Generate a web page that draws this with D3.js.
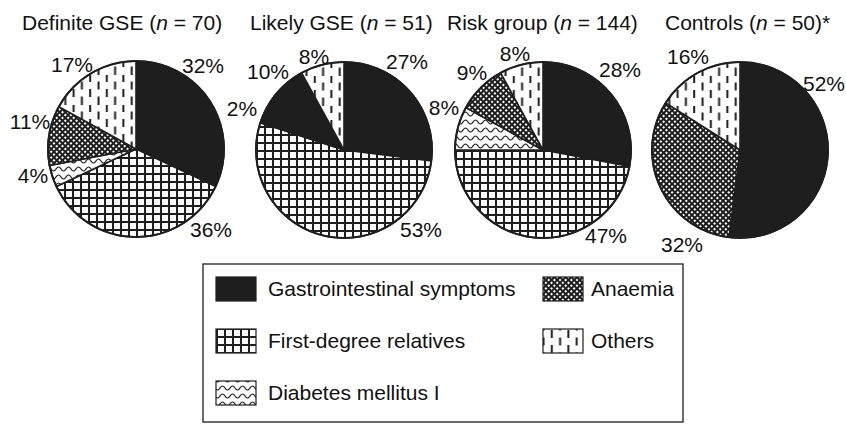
<!DOCTYPE html>
<html>
<head>
<meta charset="utf-8">
<script src="https://cdn.jsdelivr.net/npm/d3@7"></script>
<style>
  html, body { margin: 0; padding: 0; background: #fff; }
  svg { display: block; font-family: "Liberation Sans", Arial, Helvetica, sans-serif; }
</style>
</head>
<body>
<svg id="chart" width="846" height="424"></svg>
<script>
// ---------- data ----------
const groups = ["Definite GSE", "Likely GSE", "Risk group", "Controls"];
const groupN = [70, 51, 144, 50];
const groupSuffix = ["", "", "", "*"];
const categories = ["Gastrointestinal symptoms", "First-degree relatives", "Diabetes mellitus I", "Anaemia", "Others"];
const definiteGSE = [32, 36, 4, 11, 17];
const likelyGSE = [27, 53, 2, 10, 8];
const riskGroup = [28, 47, 8, 9, 8];
const controls = [52, 0, 0, 32, 16];
const seriesValues = [definiteGSE, likelyGSE, riskGroup, controls];

// ---------- layout (positions / styles) ----------
const W = 846, H = 424;
const pieCenters = [[136, 149], [344, 150], [543, 150], [740, 150]];
const radius = 88;
const titleX = [22, 250, 447, 665];
const titleY = 30;
const fontSize = 21;
// label centre offsets from pie centre, per group, per category
const labelOffsets = [
  [[67, -83], [75, 81], [-103, 27], [-106, -27], [-64, -84]],
  [[63, -88], [77, 80], [-102, -41], [-76, -78], [-30, -93]],
  [[77, -80], [63, 86], [-99, -42], [-71, -77], [-28, -96]],
  [[84, -66], [0, 0], [0, 0], [-58, 95], [-52, -93]]
];
// in the reference the small slices of "Likely GSE" are printed solid
const solidOverride = { 1: [2, 3] };
const patternIds = ["pGI", "pFDR", "pDM", "pAN", "pOT"];
const ink = "#1e1e1e";

const svg = d3.select("#chart");
const defs = svg.append("defs");

// FDR: grid
const pFDR = defs.append("pattern").attr("id", "pFDR").attr("patternUnits", "userSpaceOnUse")
  .attr("width", 8).attr("height", 8);
pFDR.append("rect").attr("width", 8).attr("height", 8).attr("fill", "#fff");
pFDR.append("rect").attr("x", 0).attr("y", 0).attr("width", 2).attr("height", 8).attr("fill", ink);
pFDR.append("rect").attr("x", 0).attr("y", 0).attr("width", 8).attr("height", 2).attr("fill", ink);

// DM: wavy lines
const pDM = defs.append("pattern").attr("id", "pDM").attr("patternUnits", "userSpaceOnUse")
  .attr("width", 10).attr("height", 8);
pDM.append("rect").attr("width", 10).attr("height", 8).attr("fill", "#fff");
pDM.append("path").attr("d", "M-5,4 Q-2.5,8 0,4 Q2.5,0 5,4 Q7.5,8 10,4 Q12.5,0 15,4")
  .attr("fill", "none").attr("stroke", ink).attr("stroke-width", 1.2);

// Anaemia: dense diamond crosshatch
const pAN = defs.append("pattern").attr("id", "pAN").attr("patternUnits", "userSpaceOnUse")
  .attr("width", 4).attr("height", 4).attr("patternTransform", "rotate(45)");
pAN.append("rect").attr("width", 4).attr("height", 4).attr("fill", ink);
pAN.append("rect").attr("x", 1).attr("y", 1).attr("width", 2).attr("height", 2).attr("fill", "#fff");

// Others: staggered vertical dashes
const pOT = defs.append("pattern").attr("id", "pOT").attr("patternUnits", "userSpaceOnUse")
  .attr("width", 16.6).attr("height", 15);
pOT.append("rect").attr("width", 16.6).attr("height", 15).attr("fill", "#fff");
pOT.append("rect").attr("x", 3).attr("y", 0).attr("width", 2).attr("height", 8).attr("fill", ink);
pOT.append("rect").attr("x", 11.3).attr("y", 7.5).attr("width", 2).attr("height", 8).attr("fill", ink);
pOT.append("rect").attr("x", 11.3).attr("y", -7.5).attr("width", 2).attr("height", 8).attr("fill", ink);

function fillFor(gi, ci) {
  if (ci === 0) return ink;
  if (solidOverride[gi] && solidOverride[gi].includes(ci)) return ink;
  return "url(#" + patternIds[ci] + ")";
}

const pie = d3.pie().sort(null).value(d => d.v).startAngle(0).endAngle(2 * Math.PI);
const arc = d3.arc().innerRadius(0).outerRadius(radius);

groups.forEach((g, gi) => {
  const [cx, cy] = pieCenters[gi];
  const data = seriesValues[gi].map((v, ci) => ({ v, ci }));
  const arcs = pie(data).filter(d => d.data.v > 0);
  const gg = svg.append("g").attr("transform", `translate(${cx},${cy})`);

  gg.selectAll("path.slice").data(arcs).join("path")
    .attr("class", "slice")
    .attr("d", arc)
    .attr("fill", d => fillFor(gi, d.data.ci))
    .attr("stroke", ink)
    .attr("stroke-width", 1.6)
    .attr("stroke-linejoin", "round");

  gg.append("circle").attr("r", radius).attr("fill", "none")
    .attr("stroke", ink).attr("stroke-width", 2);

  gg.selectAll("text.lbl").data(arcs).join("text")
    .attr("class", "lbl")
    .attr("x", d => labelOffsets[gi][d.data.ci][0])
    .attr("y", d => labelOffsets[gi][d.data.ci][1])
    .attr("dy", "0.35em")
    .attr("text-anchor", "middle")
    .attr("font-size", fontSize)
    .attr("fill", "#111")
    .text(d => d.data.v + "%");

  const t = svg.append("text")
    .attr("x", titleX[gi]).attr("y", titleY)
    .attr("font-size", fontSize).attr("fill", "#111");
  t.append("tspan").text(g + " (");
  t.append("tspan").attr("font-style", "italic").text("n");
  t.append("tspan").text(" = " + groupN[gi] + ")" + groupSuffix[gi]);
});

// ---------- legend ----------
const legendBox = { x: 203, y: 264, w: 480, h: 158 };
svg.append("rect")
  .attr("x", legendBox.x).attr("y", legendBox.y)
  .attr("width", legendBox.w).attr("height", legendBox.h)
  .attr("fill", "#fff").attr("stroke", ink).attr("stroke-width", 1.3);

const legendCols = [216, 543];
const legendRows = [289, 341, 393];
const legendPos = [[0, 0], [0, 1], [0, 2], [1, 0], [1, 1]];
const sw = 40, sh = 24;

const lg = svg.append("g");
categories.forEach((c, ci) => {
  const [col, row] = legendPos[ci];
  const x = legendCols[col], y = legendRows[row];
  lg.append("rect")
    .attr("x", x).attr("y", y - sh / 2)
    .attr("width", sw).attr("height", sh)
    .attr("fill", ci === 0 ? ink : "url(#" + patternIds[ci] + ")")
    .attr("stroke", ink).attr("stroke-width", 1.2);
  lg.append("text")
    .attr("x", x + sw + (col === 0 ? 12 : 8)).attr("y", y)
    .attr("dy", "0.35em")
    .attr("font-size", fontSize).attr("fill", "#111")
    .text(c);
});
</script>
</body>
</html>
